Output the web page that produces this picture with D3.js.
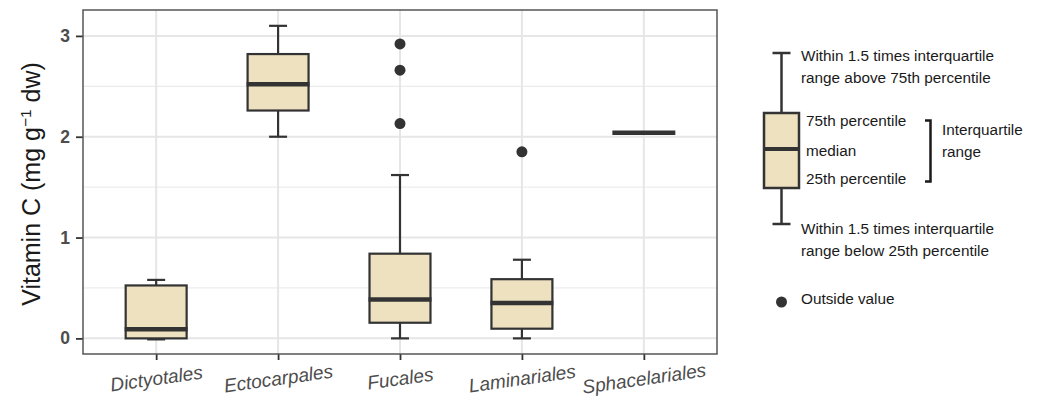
<!DOCTYPE html>
<html>
<head>
<meta charset="utf-8">
<script src="https://cdn.jsdelivr.net/npm/d3@7"></script>
<style>
  html, body { margin: 0; padding: 0; background: #fff; }
  svg { display: block; font-family: "Liberation Sans", Arial, Helvetica, sans-serif; }
</style>
</head>
<body>
<svg id="chart" width="1038" height="397"></svg>
<script>
// Vitamin C content by brown-algal order (box plot summaries)
const orders = ["Dictyotales", "Ectocarpales", "Fucales", "Laminariales", "Sphacelariales"];
const whiskerLow = [-0.01, 2.00, 0.00, 0.00, 2.04];
const q1 = [0.00, 2.26, 0.155, 0.096, 2.04];
const medians = [0.09, 2.52, 0.386, 0.35, 2.04];
const q3 = [0.525, 2.82, 0.84, 0.587, 2.04];
const whiskerHigh = [0.58, 3.10, 1.62, 0.78, 2.04];
const outliers = [[], [], [2.13, 2.66, 2.92], [1.85], []];
const yTicks = [0, 1, 2, 3];
const yMinorTicks = [0.5, 1.5, 2.5];
const yDomain = [-0.155, 3.257];

const svg = d3.select("#chart");
const panel = { left: 83, right: 717, top: 10, bottom: 354 };

const x = d3.scalePoint().domain(orders).range([panel.left, panel.right]).padding(0.6);
const y = d3.scaleLinear().domain(yDomain).range([panel.bottom, panel.top]);

const boxW = x.step() * 0.5;
const capW = 18;
const ink = "#333333";
const fill = "#ede1c0";

// grid
const grid = svg.append("g");
grid.selectAll("line.minor").data(yMinorTicks).join("line")
  .attr("x1", panel.left).attr("x2", panel.right)
  .attr("y1", d => y(d)).attr("y2", d => y(d))
  .attr("stroke", "#ececec").attr("stroke-width", 1.2);
grid.selectAll("line.major").data(yTicks).join("line")
  .attr("x1", panel.left).attr("x2", panel.right)
  .attr("y1", d => y(d)).attr("y2", d => y(d))
  .attr("stroke", "#e6e6e6").attr("stroke-width", 2);
grid.selectAll("line.vert").data(orders).join("line")
  .attr("x1", d => x(d)).attr("x2", d => x(d))
  .attr("y1", panel.top).attr("y2", panel.bottom)
  .attr("stroke", "#e6e6e6").attr("stroke-width", 2);

// axes
const yAxis = d3.axisLeft(y).tickValues(yTicks).tickSize(7).tickPadding(6).tickFormat(d3.format("d"));
const gy = svg.append("g").attr("transform", `translate(${panel.left},0)`).call(yAxis);
gy.select(".domain").remove();
gy.selectAll(".tick line").attr("stroke", ink).attr("stroke-width", 1.8);
gy.selectAll(".tick text").attr("fill", "#4d4d4d").attr("font-size", 17.5).attr("font-weight", "bold")
  .attr("font-family", "Liberation Sans, Arial, sans-serif");

const xAxis = d3.axisBottom(x).tickSize(6).tickPadding(0);
const gx = svg.append("g").attr("transform", `translate(0,${panel.bottom})`).call(xAxis);
gx.select(".domain").remove();
gx.selectAll(".tick line").attr("stroke", ink).attr("stroke-width", 1.8);
gx.selectAll(".tick text")
  .attr("fill", "#4d4d4d").attr("font-size", 19).attr("font-style", "italic")
  .attr("font-family", "Liberation Sans, Arial, sans-serif")
  .attr("text-anchor", "middle").attr("dy", null).attr("y", 0)
  .attr("transform", "translate(0,26) rotate(-8)")
  .attr("dominant-baseline", "middle");

// y-axis title
const yt = svg.append("text")
  .attr("transform", `translate(40,${(panel.top + panel.bottom) / 2 + 2}) rotate(-90)`)
  .attr("text-anchor", "middle").attr("font-size", 25).attr("fill", "#1a1a1a");
yt.append("tspan").text("Vitamin C (mg g");
yt.append("tspan").attr("dy", -9).attr("font-size", 15.5).text("\u22121");
yt.append("tspan").attr("dy", 9).text(" dw)");

// boxes
const boxes = svg.append("g");
orders.forEach((o, i) => {
  const cx = x(o);
  const g = boxes.append("g");
  // whiskers
  g.append("line").attr("x1", cx).attr("x2", cx).attr("y1", y(q3[i])).attr("y2", y(whiskerHigh[i]))
    .attr("stroke", ink).attr("stroke-width", 2.2);
  g.append("line").attr("x1", cx).attr("x2", cx).attr("y1", y(q1[i])).attr("y2", y(whiskerLow[i]))
    .attr("stroke", ink).attr("stroke-width", 2.2);
  [whiskerHigh[i], whiskerLow[i]].forEach(v => {
    g.append("line").attr("x1", cx - capW / 2).attr("x2", cx + capW / 2)
      .attr("y1", y(v)).attr("y2", y(v)).attr("stroke", ink).attr("stroke-width", 2.2);
  });
  g.append("rect").attr("x", cx - boxW / 2).attr("width", boxW)
    .attr("y", y(q3[i])).attr("height", Math.max(0, y(q1[i]) - y(q3[i])))
    .attr("fill", fill).attr("stroke", ink).attr("stroke-width", 2.2);
  g.append("line").attr("x1", cx - boxW / 2 - 1).attr("x2", cx + boxW / 2 + 1)
    .attr("y1", y(medians[i])).attr("y2", y(medians[i]))
    .attr("stroke", ink).attr("stroke-width", 4.5).attr("stroke-linecap", "butt");
  g.selectAll("circle").data(outliers[i]).join("circle")
    .attr("cx", cx).attr("cy", d => y(d)).attr("r", 5.5).attr("fill", ink);
});

// panel border
svg.append("rect").attr("x", panel.left).attr("y", panel.top)
  .attr("width", panel.right - panel.left).attr("height", panel.bottom - panel.top)
  .attr("fill", "none").attr("stroke", "#555").attr("stroke-width", 1.5);

// key explaining the box plot
const key = svg.append("g").attr("font-size", 15.3).attr("fill", "#1a1a1a");
const kx = 781.5, kTop = 53, kQ3 = 113, kMed = 149, kQ1 = 188, kBot = 224, kW = 35;
key.append("line").attr("x1", kx).attr("x2", kx).attr("y1", kTop).attr("y2", kBot).attr("stroke", ink).attr("stroke-width", 2.5);
[kTop, kBot].forEach(v => key.append("line").attr("x1", kx - 9).attr("x2", kx + 9).attr("y1", v).attr("y2", v)
  .attr("stroke", ink).attr("stroke-width", 2.5));
key.append("rect").attr("x", kx - kW / 2).attr("y", kQ3).attr("width", kW).attr("height", kQ1 - kQ3)
  .attr("fill", fill).attr("stroke", ink).attr("stroke-width", 2.5);
key.append("line").attr("x1", kx - kW / 2).attr("x2", kx + kW / 2).attr("y1", kMed).attr("y2", kMed)
  .attr("stroke", ink).attr("stroke-width", 4);
key.append("circle").attr("cx", kx).attr("cy", 302).attr("r", 5.5).attr("fill", ink);

const keyText = [
  ["Within 1.5 times interquartile", 801, 55],
  ["range above 75th percentile", 801, 77.5],
  ["75th percentile", 806, 120],
  ["median", 806, 150],
  ["25th percentile", 806, 178],
  ["Interquartile", 942, 129],
  ["range", 942, 151],
  ["Within 1.5 times interquartile", 801, 228],
  ["range below 25th percentile", 801, 250.5],
  ["Outside value", 801, 298]
];
key.selectAll("text").data(keyText).join("text")
  .attr("x", d => d[1]).attr("y", d => d[2]).attr("dominant-baseline", "central").text(d => d[0]);

// bracket around the interquartile labels
key.append("path").attr("d", "M925,120.5 H930.5 V181.5 H925")
  .attr("fill", "none").attr("stroke", "#1a1a1a").attr("stroke-width", 2.5);
</script>
</body>
</html>
